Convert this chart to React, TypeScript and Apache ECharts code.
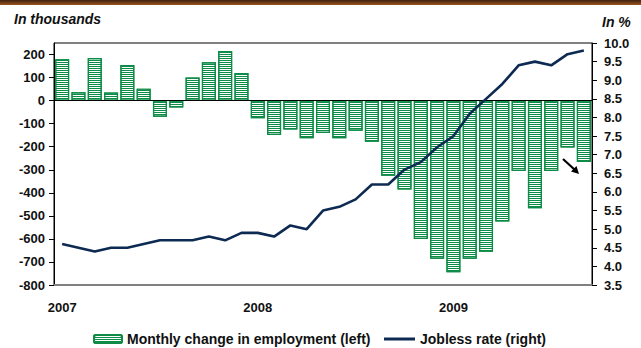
import React, { useEffect, useRef } from "react";
import * as echarts from "echarts";

const months: string[] = [
  "2007-01","2007-02","2007-03","2007-04","2007-05","2007-06","2007-07","2007-08","2007-09","2007-10","2007-11","2007-12",
  "2008-01","2008-02","2008-03","2008-04","2008-05","2008-06","2008-07","2008-08","2008-09","2008-10","2008-11","2008-12",
  "2009-01","2009-02","2009-03","2009-04","2009-05","2009-06","2009-07","2009-08","2009-09",
];

const employmentChange: number[] = [
  180, 36, 185, 35, 155, 52, -70, -30, 100, 166, 215, 120,
  -76, -149, -125, -163, -140, -163, -131, -178, -326, -386, -600, -686,
  -745, -686, -656, -525, -305, -467, -305, -203, -266,
];

const joblessRate: number[] = [
  4.6, 4.5, 4.4, 4.5, 4.5, 4.6, 4.7, 4.7, 4.7, 4.8, 4.7, 4.9,
  4.9, 4.8, 5.1, 5.0, 5.5, 5.6, 5.8, 6.2, 6.2, 6.6, 6.8, 7.2,
  7.5, 8.1, 8.5, 8.9, 9.4, 9.5, 9.4, 9.7, 9.8,
];

const leftTicks: number[] = [-800, -700, -600, -500, -400, -300, -200, -100, 0, 100, 200];

const GREEN = "#0e8c47";
const NAVY = "#0c2a52";
const FONT = "'Liberation Sans', Arial, sans-serif";

export default function App() {
  const ref = useRef<HTMLDivElement>(null);

  useEffect(() => {
    if (!ref.current) return;
    const chart = echarts.init(ref.current, undefined, { renderer: "svg" });
    const barName = "Monthly change in employment (left)";
    const lineName = "Jobless rate (right)";
    chart.setOption({
      animation: false,
      backgroundColor: "#ffffff",
      textStyle: { fontFamily: FONT },
      grid: { left: 54, right: 49, top: 43, bottom: 63, show: true, borderColor: "#000", borderWidth: 1 },
      legend: [
        {
          data: [barName],
          left: 93,
          top: 332,
          itemWidth: 28,
          itemHeight: 8,
          padding: 0,
          textStyle: { fontFamily: FONT, fontWeight: "bold", fontSize: 14, color: "#111" },
        },
        {
          data: [{ name: lineName, icon: "rect" }],
          left: 384,
          top: 332,
          itemWidth: 31,
          itemHeight: 3,
          padding: 0,
          textStyle: { fontFamily: FONT, fontWeight: "bold", fontSize: 14, color: "#111" },
        },
      ],
      xAxis: {
        type: "category",
        data: months,
        axisLine: { onZero: false, lineStyle: { color: "#808080", width: 2 } },
        axisTick: { show: false },
        axisLabel: {
          interval: (_i: number, v: string) => v.endsWith("-01"),
          formatter: (v: string) => v.slice(0, 4),
          margin: 16,
          color: "#111",
          fontWeight: "bold",
          fontSize: 13,
          fontFamily: FONT,
        },
        splitLine: { show: false },
      },
      yAxis: [
        {
          type: "value",
          min: -800,
          max: 250,
          interval: 100,
          position: "left",
          axisLine: { show: true, lineStyle: { color: "#000", width: 1 } },
          axisTick: { show: true, length: 5, lineStyle: { color: "#000" }, customValues: leftTicks },
          axisLabel: {
            customValues: leftTicks,
            formatter: (v: number) => (v > 200 ? "" : String(v)),
            margin: 9,
            color: "#111",
            fontWeight: "bold",
            fontSize: 13,
            fontFamily: FONT,
          },
          splitLine: { show: false },
        },
        {
          type: "value",
          min: 3.5,
          max: 10,
          interval: 0.5,
          position: "right",
          axisLine: { show: true, lineStyle: { color: "#000", width: 1 } },
          axisTick: { show: true, length: 5, lineStyle: { color: "#000" } },
          axisLabel: {
            formatter: (v: number) => v.toFixed(1),
            margin: 12,
            color: "#111",
            fontWeight: "bold",
            fontSize: 13,
            fontFamily: FONT,
          },
          splitLine: { show: false },
        },
      ],
      series: [
        {
          name: barName,
          type: "bar",
          yAxisIndex: 0,
          data: employmentChange,
          barCategoryGap: "14%",
          itemStyle: {
            color: "#ffffff",
            borderColor: GREEN,
            borderWidth: 1.2,
            decal: {
              symbol: "rect",
              symbolSize: 1,
              color: GREEN,
              dashArrayX: [1, 0],
              dashArrayY: [1, 1],
              rotation: 0,
            },
          },
          markLine: {
            silent: true,
            symbol: ["none", "none"],
            label: { show: false },
            lineStyle: { color: "#000", width: 1, type: "solid" },
            data: [{ yAxis: 0 }],
          },
        },
        {
          name: lineName,
          type: "line",
          yAxisIndex: 1,
          data: joblessRate,
          symbol: "none",
          lineStyle: { color: NAVY, width: 2.6 },
          itemStyle: { color: NAVY },
          z: 5,
        },
      ],
      graphic: [
        {
          type: "rect",
          left: 0,
          top: 0,
          shape: { width: 641, height: 5 },
          style: {
            fill: new echarts.graphic.LinearGradient(0, 0, 0, 1, [
              { offset: 0, color: "#3a2410" },
              { offset: 0.3, color: "#5a3012" },
              { offset: 1, color: "#9a541e" },
            ]),
          },
          silent: true,
        },
        {
          type: "text",
          left: 14,
          top: 12,
          style: { text: "In thousands", fontFamily: FONT, fontSize: 14, fontWeight: "bold", fontStyle: "italic", fill: "#111" },
        },
        {
          type: "text",
          left: 602,
          top: 15,
          style: { text: "In %", fontFamily: FONT, fontSize: 14, fontWeight: "bold", fontStyle: "italic", fill: "#111" },
        },
        {
          type: "line",
          shape: { x1: 563, y1: 159, x2: 575, y2: 170 },
          style: { stroke: "#000", lineWidth: 2.2 },
          silent: true,
        },
        {
          type: "polygon",
          shape: { points: [[579, 174], [571, 171.5], [576.5, 166]] },
          style: { fill: "#000" },
          silent: true,
        },
      ],
    });
    return () => chart.dispose();
  }, []);

  return <div ref={ref} style={{ width: 641, height: 348, position: "absolute", left: 0, top: 0 }} />;
}
